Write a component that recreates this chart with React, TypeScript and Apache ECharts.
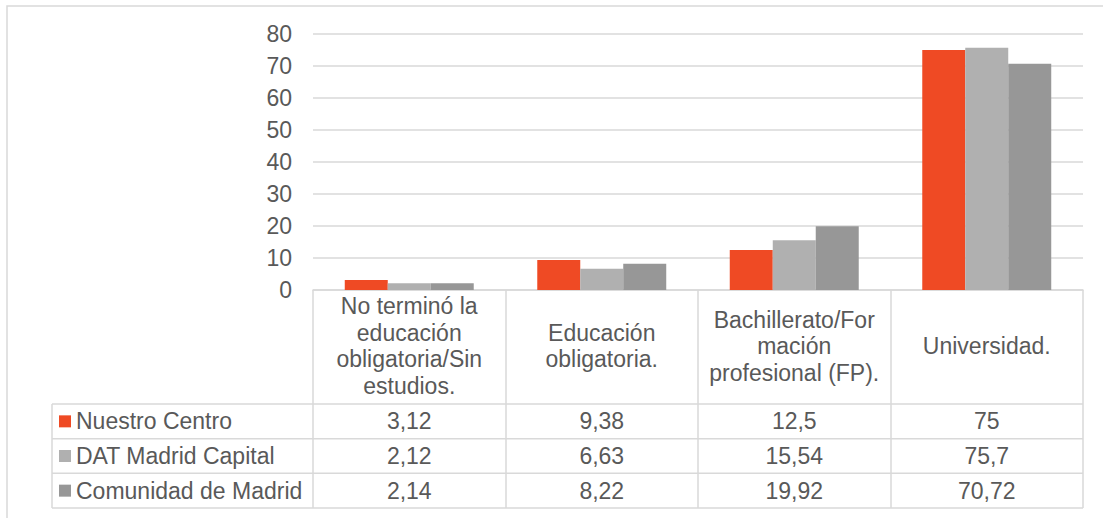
import React, { useEffect, useRef } from "react";
import * as echarts from "echarts";

const categories = [
  "No terminó la educación obligatoria/Sin estudios.",
  "Educación obligatoria.",
  "Bachillerato/Formación profesional (FP).",
  "Universidad.",
];
const headerLabels = [
  "No terminó la\neducación\nobligatoria/Sin\nestudios.",
  "Educación\nobligatoria.",
  "Bachillerato/For\nmación\nprofesional (FP).",
  "Universidad.",
];
const seriesNames = ["Nuestro Centro", "DAT Madrid Capital", "Comunidad de Madrid"];
const nuestroCentro = [3.12, 9.38, 12.5, 75];
const datMadridCapital = [2.12, 6.63, 15.54, 75.7];
const comunidadMadrid = [2.14, 8.22, 19.92, 70.72];
const yTicks = { min: 0, max: 80, interval: 10 };

const colors = ["#EF4A24", "#B0B0B0", "#979797"];
const FONT = "Liberation Sans, Arial, sans-serif";
const FS = 23;
const TEXT = "#595959";
const LINE = "#D9D9D9";

export default function App() {
  const ref = useRef<HTMLDivElement>(null);
  useEffect(() => {
    document.body.style.margin = "0";
    if (!ref.current) return;
    const chart = echarts.init(ref.current, undefined, { renderer: "svg" });
    const W = 1103;
    const H = 518;
    const plotLeft = 313;
    const plotRight = 1083;
    const plotTop = 34;
    const plotBottom = 290;
    const rowLines = [404, 438.7, 473.3, 508];
    const tableLeft = 52;
    const catW = (plotRight - plotLeft) / categories.length;
    const allSeries = [nuestroCentro, datMadridCapital, comunidadMadrid];
    const fmt = (v: number) => String(v).replace(".", ",");

    const graphics: any[] = [];
    graphics.push({
      type: "rect",
      shape: { x: 7, y: 6, width: 1120, height: 530 },
      style: { fill: "none", stroke: LINE, lineWidth: 1.5 },
      silent: true,
    });
    rowLines.forEach((y) => {
      graphics.push({
        type: "line",
        shape: { x1: tableLeft, y1: y, x2: plotRight, y2: y },
        style: { stroke: LINE, lineWidth: 1.5 },
      });
    });
    graphics.push({
      type: "line",
      shape: { x1: tableLeft, y1: rowLines[0], x2: tableLeft, y2: rowLines[3] },
      style: { stroke: LINE, lineWidth: 1.5 },
    });
    for (let r = 0; r < 3; r++) {
      const cy = (rowLines[r] + rowLines[r + 1]) / 2;
      graphics.push({
        type: "rect",
        shape: { x: 59, y: cy - 6, width: 12, height: 12 },
        style: { fill: colors[r] },
      });
      graphics.push({
        type: "text",
        x: 76,
        y: cy,
        style: {
          text: seriesNames[r],
          font: `${FS}px ${FONT}`,
          fill: TEXT,
          textAlign: "left",
          textVerticalAlign: "middle",
        },
      });
      allSeries[r].forEach((v, i) => {
        graphics.push({
          type: "text",
          x: plotLeft + catW * (i + 0.5),
          y: cy,
          style: {
            text: fmt(v),
            font: `${FS}px ${FONT}`,
            fill: TEXT,
            textAlign: "center",
            textVerticalAlign: "middle",
          },
        });
      });
    }

    chart.setOption({
      animation: false,
      textStyle: { fontFamily: FONT },
      grid: {
        left: plotLeft,
        right: W - plotRight,
        top: plotTop,
        bottom: H - plotBottom,
        containLabel: false,
      },
      xAxis: {
        type: "category",
        data: categories,
        axisLine: { show: true, lineStyle: { color: LINE, width: 1.5 } },
        axisTick: {
          show: true,
          length: rowLines[3] - plotBottom,
          lineStyle: { color: LINE, width: 1.5 },
        },
        axisLabel: {
          interval: 0,
          margin: 56,
          verticalAlign: "middle",
          align: "center",
          color: TEXT,
          fontSize: FS,
          lineHeight: 26.5,
          fontFamily: FONT,
          formatter: (_v: string, idx: number) => headerLabels[idx],
        },
      },
      yAxis: {
        type: "value",
        min: yTicks.min,
        max: yTicks.max,
        interval: yTicks.interval,
        axisLine: { show: false },
        axisTick: { show: false },
        axisLabel: { color: TEXT, fontSize: FS, margin: 21, fontFamily: FONT },
        splitLine: { lineStyle: { color: LINE, width: 1.5 } },
      },
      series: allSeries.map((d, i) => ({
        name: seriesNames[i],
        type: "bar",
        data: d,
        barGap: "0%",
        barCategoryGap: "33%",
        itemStyle: { color: colors[i] },
      })),
      graphic: graphics,
    });
    return () => chart.dispose();
  }, []);
  return <div ref={ref} style={{ width: 1103, height: 518 }} />;
}
